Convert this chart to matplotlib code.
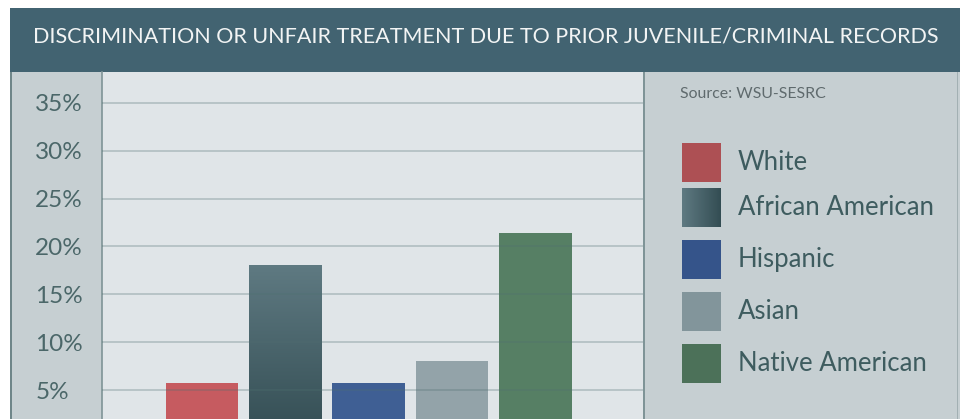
import matplotlib.pyplot as plt
from matplotlib.patches import Rectangle
from matplotlib.colors import LinearSegmentedColormap
import numpy as np

plt.rcParams['font.family'] = ['Lato', 'DejaVu Sans']

# data
groups = ['White', 'African American', 'Hispanic', 'Asian', 'Native American']
values = [5.8, 18.1, 5.8, 8.1, 21.4]
bar_colors = ['#c65b60', None, '#3f5f94', '#93a3a9', '#567f64']
legend_colors = ['#ad5054', None, '#35548a', '#82959b', '#4c7159']
grad_light = '#5f7a82'
grad_dark = '#334d53'
yticks = [5, 10, 15, 20, 25, 30, 35]
ytick_labels = ['5%', '10%', '15%', '20%', '25%', '30%', '35%']
title = 'DISCRIMINATION OR UNFAIR TREATMENT DUE TO PRIOR JUVENILE/CRIMINAL RECORDS'
source = 'Source: WSU-SESRC'

W, H = 963, 419
fig = plt.figure(figsize=(W / 100, H / 100), dpi=100)
fig.patch.set_facecolor('white')


def fx(px):
    return px / W


def fy(py):
    return 1 - py / H


def panel(x0, w, color, z=-2):
    # background pieces sit behind the axes
    fig.patches.append(Rectangle((fx(x0), 0), fx(w), 347 / H, transform=fig.transFigure,
                                 facecolor=color, edgecolor='none', zorder=z))


# header band
fig.patches.append(Rectangle((fx(10), fy(72)), fx(950), 64 / H, transform=fig.transFigure,
                             facecolor='#426371', edgecolor='none', zorder=-2))
fig.text(fx(485.5), fy(36.5), title, color='#f2f4f4', fontsize=15.5, ha='center', va='center')

# left tick panel and legend panel
panel(10, 92, '#c6cfd2')
panel(10, 1.5, '#6f8689', -1)
panel(643, 317, '#c6cfd2')
panel(643, 1.5, '#7f9497', -1)
panel(957, 1.2, '#a2b0b3', -1)

# main axes
ax = fig.add_axes([fx(102), 0, fx(541), 347 / H])
ax.set_facecolor('#e0e5e8')
x = np.arange(len(groups))
width = 0.87
bars = ax.bar(x, values, width=width, color=[c or grad_light for c in bar_colors], zorder=2)

# gradient for African American bar
gb = bars[1]
cmap = LinearSegmentedColormap.from_list('aa', [grad_dark, grad_light])
grad = np.linspace(0, 1, 256).reshape(-1, 1)
im = ax.imshow(grad, cmap=cmap, origin='lower', aspect='auto', zorder=2,
               extent=[gb.get_x(), gb.get_x() + gb.get_width(), 0, gb.get_height()])
im.set_clip_path(gb)
gb.set_facecolor('none')

ax.set_xlim(-1.2, 5.29)
ax.set_ylim(2.0, 38.2)
ax.set_yticks(yticks)
ax.set_yticklabels(ytick_labels)
ax.set_xticks([])
ax.grid(axis='y', color='#4f6f70', alpha=0.33, linewidth=1.2, zorder=3)
ax.set_axisbelow(False)
ax.tick_params(axis='y', length=0, pad=48, labelsize=17.5, labelcolor='#4b6769')
for lbl in ax.get_yticklabels():
    lbl.set_ha('left')
for s in ax.spines.values():
    s.set_visible(False)
ax.spines['left'].set_visible(True)
ax.spines['left'].set_color('#7f9497')
ax.spines['left'].set_linewidth(1.2)

# source + legend
fig.text(fx(680), fy(93.5), source, fontsize=11.4, color='#5f6a6d', ha='left', va='center')

sq_top = [143, 188, 240, 292, 344]
for i, g in enumerate(groups):
    top = sq_top[i]
    if legend_colors[i] is None:
        lax = fig.add_axes([fx(682), fy(top + 39), fx(39), 39 / H])
        lax.imshow(np.linspace(1, 0, 256).reshape(1, -1), cmap=cmap, aspect='auto')
        lax.axis('off')
    else:
        fig.patches.append(Rectangle((fx(682), fy(top + 39)), fx(39), 39 / H,
                                     transform=fig.transFigure, facecolor=legend_colors[i],
                                     edgecolor='none', zorder=2))
    fig.text(fx(738), fy(top + 19.5), g, fontsize=18.5, color='#3e5c5f', ha='left', va='center')

fig.savefig('out.png', dpi=100)
